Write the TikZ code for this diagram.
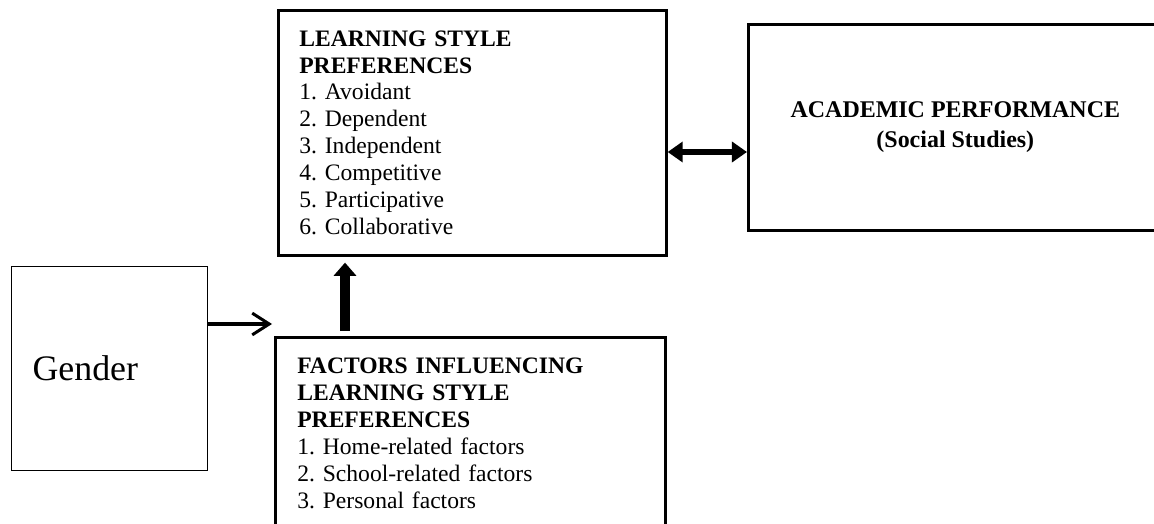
\documentclass[tikz,border=0pt]{standalone}
\usepackage{fontspec}
\setmainfont{Liberation Serif}
\usetikzlibrary{positioning,arrows}
\usetikzlibrary{shapes}
\usetikzlibrary{arrows.meta}
\frenchspacing
\newlength{\pxu}
\setlength{\pxu}{0.53pt}

\begin{document}
\begin{tikzpicture}[x=\pxu, y=-\pxu]
  \tikzstyle{every node}=[draw, rectangle, anchor=north west, inner ysep=0pt, font=\fontsize{12.5}{14.3}\selectfont]
  \tikzstyle{box}=[line width=1.4pt, align=left, inner xsep=21\pxu]
  % \draw [step=100, blue, very thin] (0,0) grid (1154,524);
  \clip (0,0) rectangle (1154,524);
  \node [box, minimum width=388\pxu, minimum height=245\pxu, text width=346\pxu] (n1) at (277,9) {\textbf{LEARNING STYLE}\\\textbf{PREFERENCES}\\1. Avoidant\\2. Dependent\\3. Independent\\4. Competitive\\5. Participative\\6. Collaborative};
  \node [box, align=center, minimum width=414\pxu, minimum height=206\pxu, font=\fontsize{12.7}{14.3}\selectfont\bfseries] (n2) at (747,23) {ACADEMIC PERFORMANCE\\[2.5\pxu](Social Studies)};
  \node [align=left, line width=0.6pt, minimum width=196\pxu, minimum height=204\pxu, text width=154\pxu, inner xsep=21\pxu, font=\fontsize{19}{22}\selectfont] (n3) at (11,266) {Gender};
  \node [box, inner xsep=22\pxu, minimum width=390\pxu, minimum height=192\pxu, text width=346\pxu] (n4) at (274,336) {\textbf{FACTORS INFLUENCING}\\\textbf{LEARNING STYLE}\\\textbf{PREFERENCES}\\1. Home-related factors\\2. School-related factors\\3. Personal factors};

  \coordinate (c1) at (0,324);
  \coordinate (c2) at (345,0);
  \coordinate (c3) at (0,152);
  \draw [-{Straight Barb[length=9pt,width=11.5pt]}, line width=1.6pt, shorten >=2\pxu] (n3.east |- c1) -- (n4.west |- c1);
  \draw [-{Triangle[length=7pt,width=11.7pt]}, line width=5.3pt, shorten <=5\pxu, shorten >=6\pxu] (n4.north -| c2) -- (n1.south -| c2);
  \draw [{Triangle[length=8pt,width=10.6pt]}-{Triangle[length=8pt,width=10.6pt]}, line width=3.2pt] (n1.east |- c3) -- (n2.west |- c3);
\end{tikzpicture}
\end{document}
